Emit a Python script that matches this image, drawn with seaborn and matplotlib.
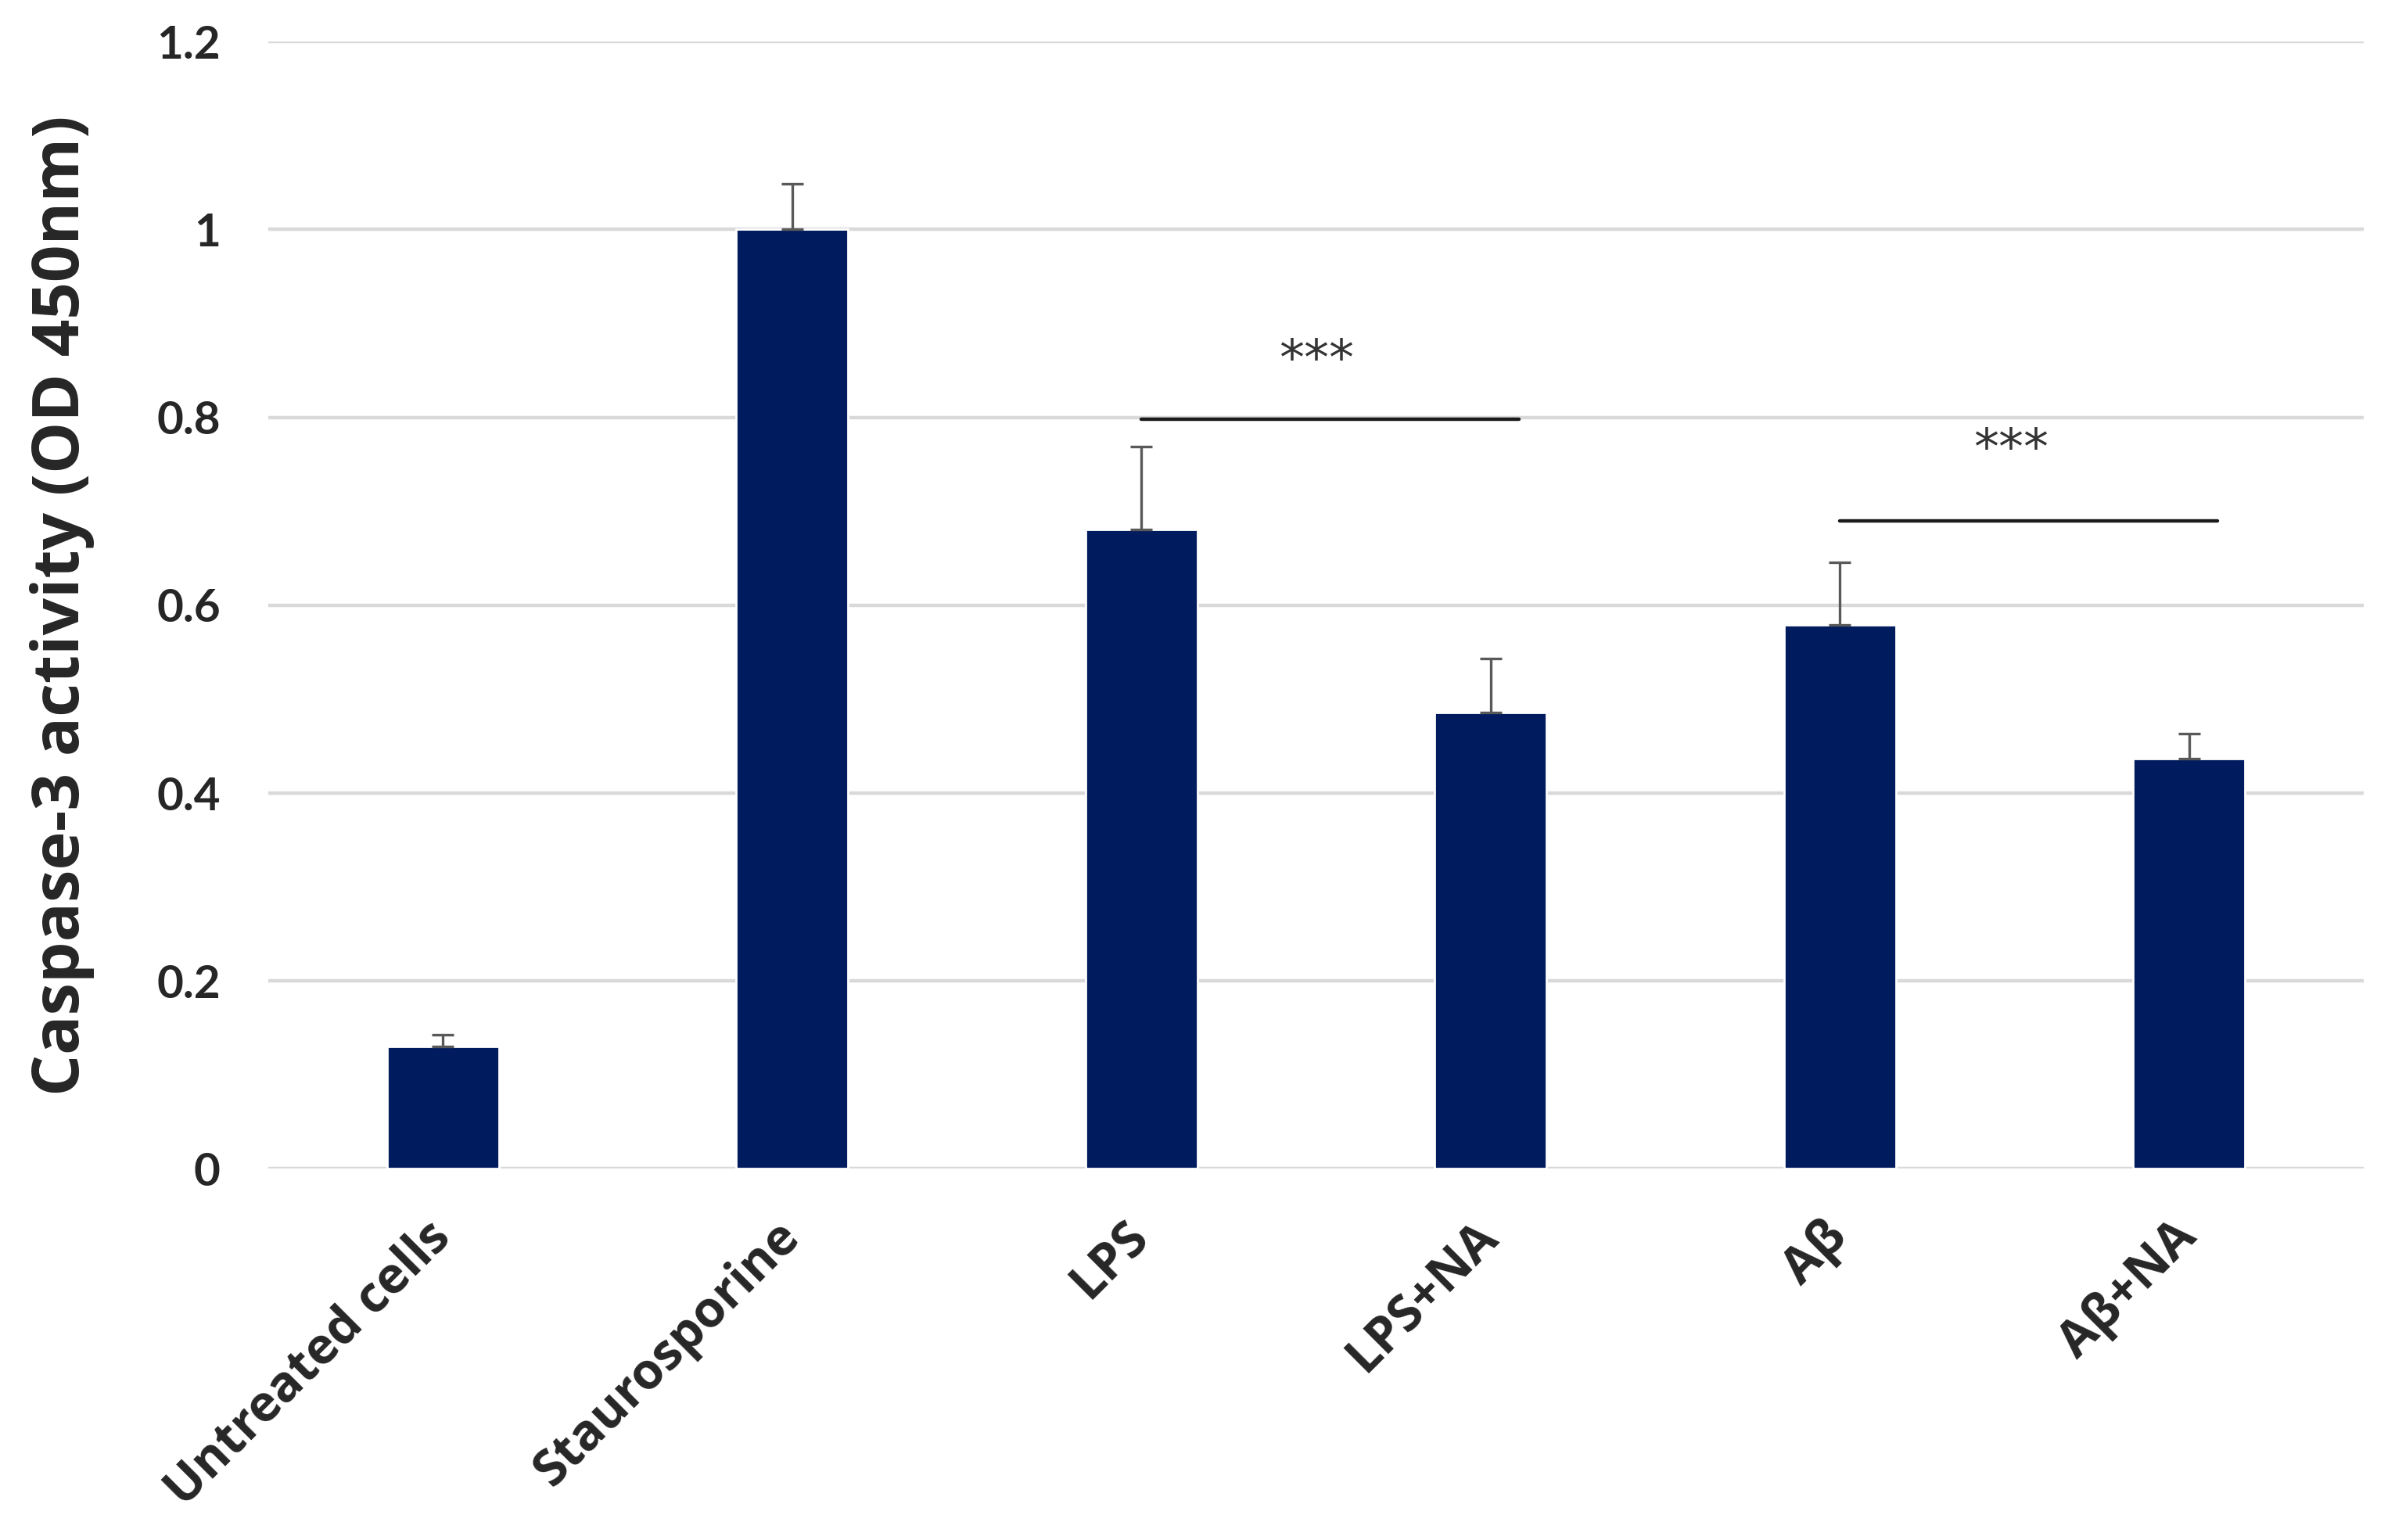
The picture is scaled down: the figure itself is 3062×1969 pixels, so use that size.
import numpy as np
import pandas as pd
import seaborn as sns
import matplotlib.pyplot as plt

# valores
groups = ['Untreated cells', 'Staurosporine', 'LPS', 'LPS+NA', 'Aβ', 'Aβ+NA']
activity = [0.130, 1.000, 0.681, 0.486, 0.579, 0.437]
err_up = [0.013, 0.049, 0.088, 0.057, 0.067, 0.026]

# barras de significância: (início, fim, altura da linha, x do texto, altura do texto)
sig_pairs = [(2, 3.08, 0.798, 2.50, 0.835), (4, 5.08, 0.690, 4.49, 0.740)]
sig_text = ['***', '***']

df = pd.DataFrame({'group': groups, 'activity': activity})

sns.set_style('white')
plt.rcParams['font.family'] = ['Lato', 'DejaVu Sans']

fig = plt.figure(figsize=(15.31, 9.845), dpi=200)
ax = fig.add_axes([0.112, 0.241, 0.875, 0.732])

sns.barplot(data=df, x='group', y='activity', color='#001B5E', saturation=1,
            width=0.32, errorbar=None, ax=ax, zorder=3)

x = np.arange(len(groups))
ax.errorbar(x, activity, yerr=[np.zeros(len(err_up)), err_up], fmt='none',
            ecolor='#595959', elinewidth=1.2, capsize=5, capthick=1.2, zorder=4)

for (x0, x1, yl, xt, yt), t in zip(sig_pairs, sig_text):
    ax.plot([x0, x1], [yl, yl], color='#1a1a1a', lw=1.6, zorder=5)
    ax.text(xt, yt, t, ha='center', va='bottom', fontsize=23,
            color='#333333', family=['DejaVu Sans'])

ax.set_ylim(0, 1.2)
ax.set_xlim(-0.5, 5.5)
ax.set_yticks([0, 0.2, 0.4, 0.6, 0.8, 1.0, 1.2])
ax.set_yticklabels(['0', '0.2', '0.4', '0.6', '0.8', '1', '1.2'])
ax.yaxis.grid(True, color='#d9d9d9', lw=1.6, zorder=0)
ax.set_axisbelow(True)
sns.despine(ax=ax, left=True, bottom=True)
ax.tick_params(axis='both', length=0)
ax.tick_params(axis='y', pad=22, labelsize=21)
ax.tick_params(axis='x', pad=28, labelsize=23)
for lab in ax.get_yticklabels():
    lab.set_fontweight('bold')
for lab in ax.get_xticklabels():
    lab.set_fontweight('bold')
    lab.set_family(['Open Sans', 'DejaVu Sans'])
    lab.set_rotation(45)
    lab.set_ha('right')
    lab.set_va('center')
    lab.set_rotation_mode('anchor')

ax.set_xlabel('')
ax.set_ylabel('Caspase-3 activity (OD 450nm)', fontsize=30, fontweight='bold',
              family=['Open Sans', 'DejaVu Sans'])
ax.yaxis.set_label_coords(-0.083, 0.5)

fig.savefig('out.png', dpi=200)
